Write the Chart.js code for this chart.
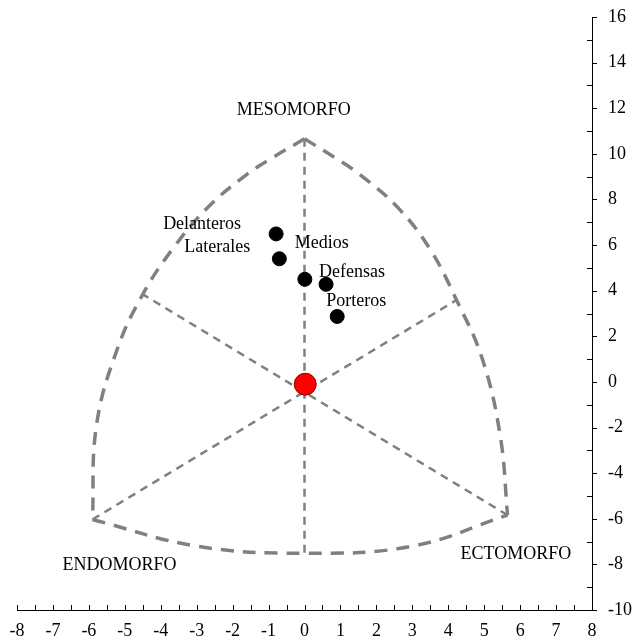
<!DOCTYPE html>
<html>
<head>
<meta charset="utf-8">
<script src="https://cdn.jsdelivr.net/npm/chart.js"></script>
<style>
  html, body { margin: 0; padding: 0; background: #fff; }
  #wrap { width: 634px; height: 642px; }
</style>
</head>
<body>
<div id="wrap"><canvas id="somatocarta"></canvas></div>
<script>
// grupos (x = ecto - endo, y = 2*meso - (endo + ecto))
var grupos = ["Delanteros", "Laterales", "Medios", "Defensas", "Porteros"];
var grupoX = [-0.79, -0.70, 0.01, 0.60, 0.91];
var grupoY = [6.49, 5.40, 4.50, 4.28, 2.87];

// punto medio del equipo
var mediaX = [0.02];
var mediaY = [-0.10];

// contorno de la somatocarta
var arcoIzqX = [0, -0.89, -1.62, -2.70, -3.68, -4.50, -5.21, -5.79, -5.90];
var arcoIzqY = [10.66, 9.83, 9.08, 7.64, 5.81, 3.84, 1.44, -1.92, -6.03];
var arcoDerX = [0, 0.85, 1.55, 2.60, 3.50, 4.23, 4.95, 5.45, 5.65];
var arcoDerY = [10.66, 9.83, 9.08, 7.64, 5.80, 3.59, 1.00, -2.40, -5.84];
var arcoInfX = [-5.90, -3.00, 0, 3.00, 5.65];
var arcoInfY = [-6.03, -7.20, -7.51, -7.20, -5.84];

// ejes internos
var ejeVertX = [0, 0];
var ejeVertY = [10.66, -7.51];
var ejeDiag1X = [-5.90, 4.23];
var ejeDiag1Y = [-6.03, 3.59];
var ejeDiag2X = [5.65, -4.50];
var ejeDiag2Y = [-5.84, 3.84];

var xTicks = [-8, -7, -6, -5, -4, -3, -2, -1, 0, 1, 2, 3, 4, 5, 6, 7, 8];
var yTicks = [-10, -8, -6, -4, -2, 0, 2, 4, 6, 8, 10, 12, 14, 16];

function pts(xs, ys) {
    var out = [];
    for (var i = 0; i < xs.length; i++) out.push({ x: xs[i], y: ys[i] });
    return out;
}

var gris = "#808080";
var fuente = "'Liberation Serif', 'Times New Roman', serif";

function contorno(xs, ys) {
    return {
        data: pts(xs, ys), showLine: true, pointRadius: 0, tension: 0.4,
        borderColor: gris, borderWidth: 3.5, borderDash: [13, 9], order: 5
    };
}
function eje(xs, ys) {
    return {
        data: pts(xs, ys), showLine: true, pointRadius: 0, tension: 0,
        borderColor: gris, borderWidth: 2.5, borderDash: [8, 6], order: 4
    };
}

// desplazamiento de las etiquetas en pixeles
var etiquetaDx = [-74, -62, 17, 26, 19];
var etiquetaDy = [-10, -11, -36, -12, -15];

var etiquetasPlugin = {
    id: "etiquetas",
    afterDraw: function (chart) {
        var ctx = chart.ctx;
        var xs = chart.scales.x, ys = chart.scales.y;
        var area = chart.chartArea;
        ctx.save();
        ctx.fillStyle = "#000";
        ctx.font = "18px " + fuente;
        ctx.textAlign = "center";
        ctx.textBaseline = "middle";
        for (var i = 0; i < grupos.length; i++) {
            ctx.fillText(grupos[i],
                xs.getPixelForValue(grupoX[i]) + etiquetaDx[i],
                ys.getPixelForValue(grupoY[i]) + etiquetaDy[i]);
        }
        ctx.fillText("MESOMORFO", xs.getPixelForValue(-0.3), ys.getPixelForValue(11.92));
        ctx.fillText("ENDOMORFO", xs.getPixelForValue(-5.15), ys.getPixelForValue(-8.03));
        ctx.fillText("ECTOMORFO", xs.getPixelForValue(5.88), ys.getPixelForValue(-7.55));

        // marcas de los ejes
        ctx.strokeStyle = "#000";
        ctx.lineWidth = 1;
        ctx.beginPath();
        for (var v = -8; v <= 8; v += 0.5) {
            var px = Math.round(xs.getPixelForValue(v)) + 0.5;
            ctx.moveTo(px, area.bottom);
            ctx.lineTo(px, area.bottom - 5);
        }
        for (var w = -10; w <= 16; w += 1) {
            var py = Math.round(ys.getPixelForValue(w)) + 0.5;
            if (w % 2 === 0) {
                ctx.moveTo(area.right, py);
                ctx.lineTo(area.right + 5, py);
            } else {
                ctx.moveTo(area.right, py);
                ctx.lineTo(area.right - 5, py);
            }
        }
        ctx.stroke();
        ctx.restore();
    }
};

new Chart("somatocarta", {
    type: "scatter",
    data: {
        datasets: [
            {
                data: pts(mediaX, mediaY), pointRadius: 11, pointHoverRadius: 11,
                backgroundColor: "#ff0000", borderColor: "#8b0000", borderWidth: 1, order: 1
            },
            {
                data: pts(grupoX, grupoY), pointRadius: 7, pointHoverRadius: 7,
                backgroundColor: "#000", borderColor: "#000", borderWidth: 1, order: 2
            },
            contorno(arcoIzqX, arcoIzqY),
            contorno(arcoDerX, arcoDerY),
            contorno(arcoInfX, arcoInfY),
            eje(ejeVertX, ejeVertY),
            eje(ejeDiag1X, ejeDiag1Y),
            eje(ejeDiag2X, ejeDiag2Y)
        ]
    },
    options: {
        responsive: true,
        maintainAspectRatio: false,
        animation: false,
        layout: { padding: { left: 17, right: 0, top: 17, bottom: 0 } },
        plugins: {
            legend: { display: false },
            tooltip: { enabled: false }
        },
        scales: {
            x: {
                type: "linear", min: -8, max: 8,
                afterBuildTicks: function (s) { s.ticks = xTicks.map(function (v) { return { value: v }; }); },
                afterFit: function (s) { s.height = 32; s.paddingLeft = 0; s.paddingRight = 0; },
                grid: { display: false, drawTicks: false },
                border: { display: true, color: "#000", width: 1 },
                ticks: {
                    color: "#000", font: { family: fuente, size: 18 },
                    padding: 10, maxRotation: 0, autoSkip: false
                }
            },
            y: {
                type: "linear", position: "right", min: -10, max: 16,
                afterBuildTicks: function (s) { s.ticks = yTicks.map(function (v) { return { value: v }; }); },
                afterFit: function (s) { s.width = 42; s.paddingTop = 0; s.paddingBottom = 0; },
                grid: { display: false, drawTicks: false },
                border: { display: true, color: "#000", width: 1 },
                ticks: {
                    color: "#000", font: { family: fuente, size: 18 },
                    padding: 16, autoSkip: false
                }
            }
        }
    },
    plugins: [etiquetasPlugin]
});
</script>
</body>
</html>
